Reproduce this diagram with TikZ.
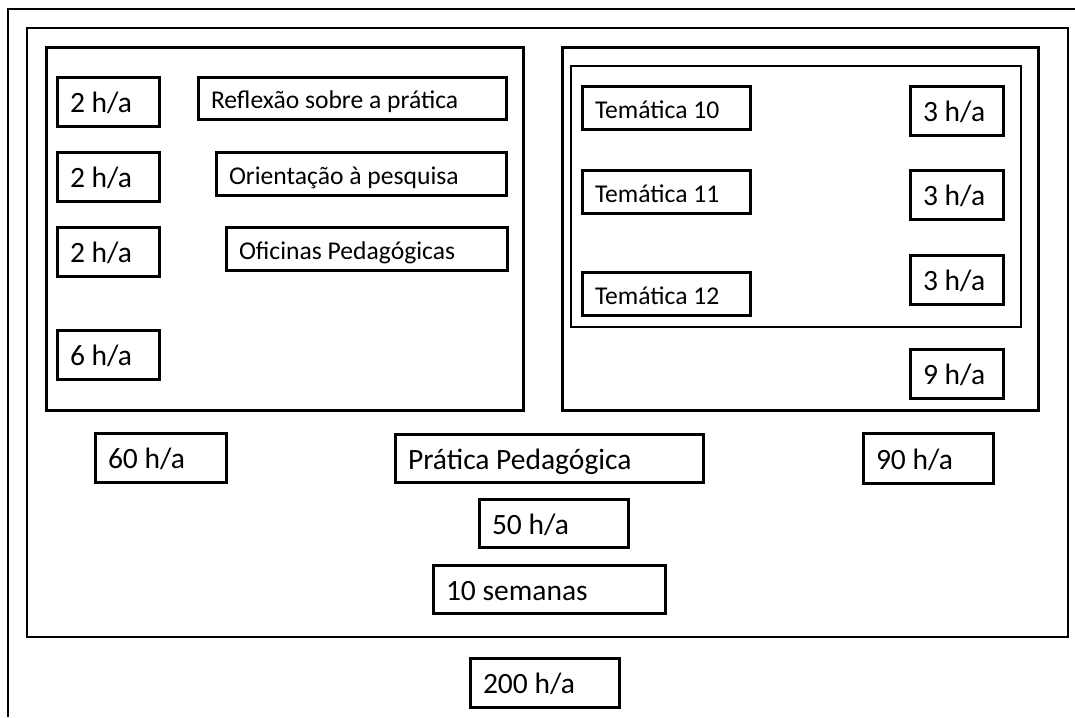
\documentclass[tikz,border=0pt]{standalone}
\usepackage{fontspec}
\setmainfont{Carlito}
\usepackage{tikz}

\newcommand{\bigtxt}{\fontsize{29.5}{31}\selectfont}
\newcommand{\smalltxt}{\fontsize{25.6}{27}\selectfont}

\tikzset{
  cell/.style={draw, line width=3pt, anchor=north west, inner xsep=13pt, inner ysep=0pt,
    align=flush left, text height=28pt, text depth=5.8pt, font=\bigtxt},
  topicbox/.style={cell, text height=25.2pt, text depth=4.1pt, font=\smalltxt},
}

\begin{document}
\begin{tikzpicture}[x=1pt, y=-1pt]
\useasboundingbox (0,0) rectangle (1075,717);

% frames
\draw[line width=1.5pt] (8,717) -- (8,9) -- (1075,9);
\draw[line width=1.8pt] (27,28) rectangle (1068,637);
\draw[line width=3pt] (46.5,48) rectangle (523.5,410.5);
\draw[line width=3pt] (562.5,48) rectangle (1038.5,410.5);
\draw[line width=2.2pt] (571,66) rectangle (1021,327);

% left block
\node[cell, text width=76pt, minimum height=49pt] (ha1) at (55.5,75.5) {2 h/a};
\node[cell, text width=76pt, minimum height=49pt] (ha2) at (55.5,150.5) {2 h/a};
\node[cell, text width=76pt, minimum height=49pt] (ha3) at (55.5,225.5) {2 h/a};
\node[cell, text width=76pt, minimum height=49pt] (ha6) at (55.5,328.5) {6 h/a};
\node[topicbox, text width=282pt, minimum height=42pt] (reflexao) at (196.5,75.5) {Reflexão sobre a prática};
\node[topicbox, text width=264pt, minimum height=43pt] (orientacao) at (214.5,150.5) {Orientação à pesquisa};
\node[topicbox, text width=255pt, minimum height=43pt] (oficinas) at (224.5,225.5) {Oficinas Pedagógicas};

% right block
\node[topicbox, text width=142pt, minimum height=43pt] (tem10) at (580.5,84.5) {Temática 10};
\node[topicbox, text width=142pt, minimum height=43pt] (tem11) at (580.5,168.5) {Temática 11};
\node[topicbox, text width=142pt, minimum height=43pt] (tem12) at (580.5,270.5) {Temática 12};
\node[cell, text width=67pt, minimum height=49pt] (hb1) at (908.5,84.5) {3 h/a};
\node[cell, text width=67pt, minimum height=49pt] (hb2) at (908.5,168.5) {3 h/a};
\node[cell, text width=67pt, minimum height=49pt] (hb3) at (908.5,253.5) {3 h/a};
\node[cell, text width=67pt, minimum height=49pt] (hb9) at (908.5,347.5) {9 h/a};

% totals
\node[cell, text width=105pt, minimum height=49pt] (ha60) at (93.5,431.5) {60 h/a};
\node[cell, text width=282pt, minimum height=48pt] (pratica) at (393.5,432.5) {Prática Pedagógica};
\node[cell, text width=104pt, minimum height=50pt] (hb90) at (861.5,431.5) {90 h/a};
\node[cell, text width=123pt, minimum height=48pt] (hp50) at (477.5,497.5) {50 h/a};
\node[cell, text width=206pt, minimum height=48pt] (semanas) at (431.5,563.5) {10 semanas};
\node[cell, text width=123pt, minimum height=49pt] (total) at (468.5,656.5) {200 h/a};
\end{tikzpicture}
\end{document}
